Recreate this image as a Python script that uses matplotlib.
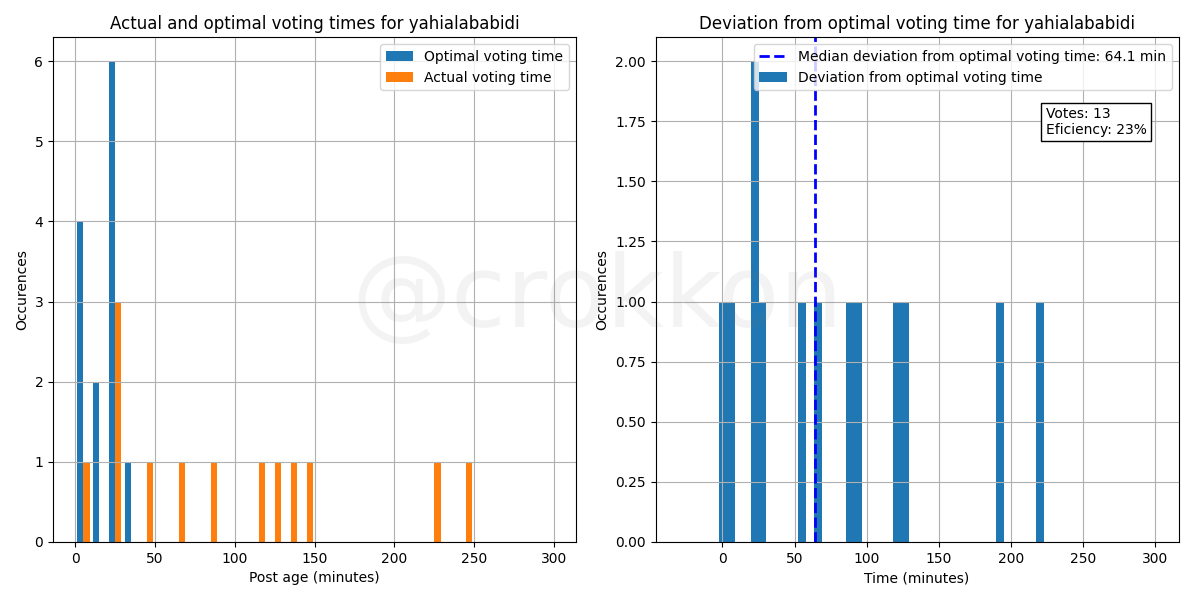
import numpy as np
import matplotlib
matplotlib.use("Agg")
import matplotlib.pyplot as plt

user = "yahialababidi"

# post age (minutes) of the optimal and the actual votes
optimal_times = [2, 3.5, 5, 7, 12, 15, 21, 22, 24, 25, 27, 28, 31]
actual_times = [8, 21, 24, 27, 45, 66, 86, 117, 125, 136, 146, 226, 247]

# deviation from optimal voting time (minutes)
deviations = [0.5, 5.8, 21.0, 23.5, 27.6, 55.2, 64.1, 88.0, 93.7, 121.3, 126.4, 192.5, 220.1]
median_dev = 64.1
votes = 13
efficiency = 23

fig, (ax1, ax2) = plt.subplots(1, 2, figsize=(12, 6), dpi=100)
ax1.set_position([53 / 1200, 0.097, 523 / 1200, 0.841])
ax2.set_position([655.5 / 1200, 0.097, 523 / 1200, 0.841])

# linke Grafik: Histogramm der Zeiten
ax1.hist([optimal_times, actual_times], bins=30, range=(0, 300),
         label=["Optimal voting time", "Actual voting time"])
ax1.set_title(f"Actual and optimal voting times for {user}")
ax1.set_xlabel("Post age (minutes)")
ax1.set_ylabel("Occurences")
ax1.grid(True)
ax1.legend(loc="upper right")

# rechte Grafik: Abweichung
_, _, patches = ax2.hist(deviations, bins=np.linspace(-30, 300, 61),
                         label="Deviation from optimal voting time")
line = ax2.axvline(median_dev, color="b", linestyle="--", linewidth=2,
                   label=f"Median deviation from optimal voting time: {median_dev:.1f} min")
ax2.set_title(f"Deviation from optimal voting time for {user}")
ax2.set_xlabel("Time (minutes)")
ax2.set_ylabel("Occurences")
ax2.set_ylim(0, 2.1)
ax2.set_xlim(-46.5, 316.5)
ax2.grid(True)
ax2.legend(handles=[line, patches[0]], loc="upper right")
ax2.text(0.746, 0.862, f"Votes: {votes}\nEficiency: {efficiency}%",
         transform=ax2.transAxes, va="top", ha="left",
         bbox=dict(facecolor="white", edgecolor="black", boxstyle="square,pad=0.3"))

# Wasserzeichen
fig.text(0.498, 0.5, "@crokkon", fontsize=72, color="gray", alpha=0.09,
         ha="center", va="center")

plt.savefig("out.png")
